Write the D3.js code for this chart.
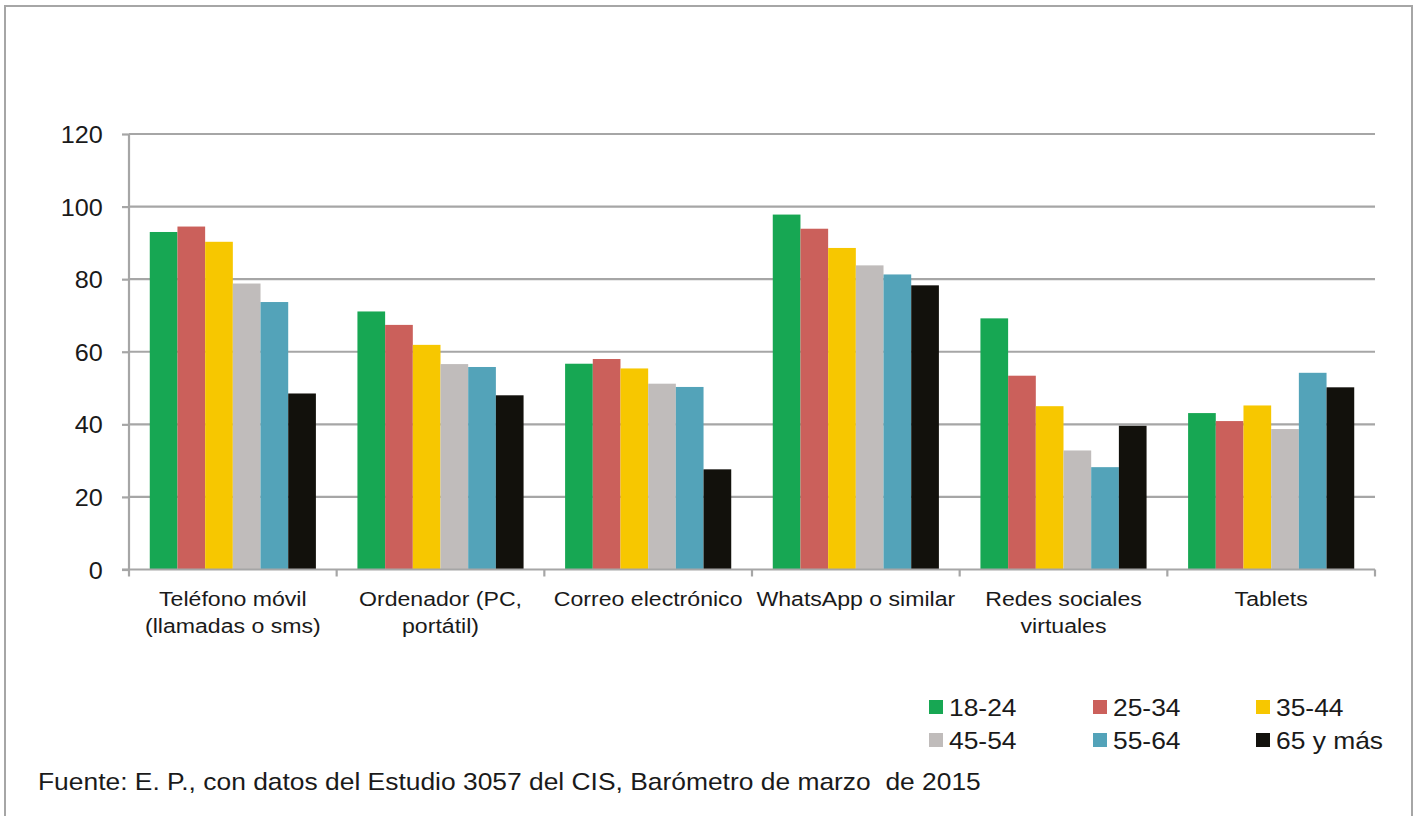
<!DOCTYPE html>
<html>
<head>
<meta charset="utf-8">
<script src="https://cdn.jsdelivr.net/npm/d3@7"></script>
<style>
  body { margin: 0; background: #fff; }
  svg { display: block; font-family: "Liberation Sans", Arial, sans-serif; }
</style>
</head>
<body>
<div id="chart"></div>
<script>
// categories (two-line labels) and age groups
const categories = [
    ["Teléfono móvil", "(llamadas o sms)"],
    ["Ordenador (PC,", "portátil)"],
    ["Correo electrónico"],
    ["WhatsApp o similar"],
    ["Redes sociales", "virtuales"],
    ["Tablets"]
];
const groups = ["18-24", "25-34", "35-44", "45-54", "55-64", "65 y más"];
const colors = ["#17a753", "#cb605b", "#f7c700", "#c0bcbb", "#53a3b9", "#12110c"];

// values per age group, in category order
const v1824 = [93.0, 71.1, 56.7, 97.8, 69.2, 43.1];
const v2534 = [94.5, 67.4, 58.0, 93.9, 53.4, 40.9];
const v3544 = [90.3, 61.9, 55.4, 88.6, 45.0, 45.2];
const v4554 = [78.8, 56.6, 51.2, 83.8, 32.8, 38.7];
const v5564 = [73.7, 55.8, 50.3, 81.3, 28.2, 54.2];
const v65 = [48.5, 48.0, 27.6, 78.3, 39.6, 50.2];
const series = [v1824, v2534, v3544, v4554, v5564, v65];

const yTicks = [0, 20, 40, 60, 80, 100, 120];
const source = "Fuente: E. P., con datos del Estudio 3057 del CIS, Barómetro de marzo\u00a0 de 2015";

const W = 1418, H = 816;
const plot = {left: 129, right: 1375, top: 134, bottom: 569.5};
const grid = "#a6a6a6";
const ink = "#1a1a1a";
const sx = 1.1; // the source text is a bit wider than Liberation Sans

const svg = d3.select("#chart").append("svg")
    .attr("width", W)
    .attr("height", H);

// outer frame
svg.append("rect")
    .attr("x", 5).attr("y", 6)
    .attr("width", 1407).attr("height", H + 10)
    .attr("fill", "none")
    .attr("stroke", grid)
    .attr("stroke-width", 2);

const idx = d3.range(categories.length);

const x0 = d3.scaleBand()
    .domain(idx)
    .range([plot.left, plot.right])
    .paddingInner(0.2)
    .paddingOuter(0.1);

const x1 = d3.scaleBand()
    .domain(d3.range(groups.length))
    .range([0, x0.bandwidth()]);

const y = d3.scaleLinear()
    .domain([0, 120])
    .range([plot.bottom, plot.top]);

// y axis
const yAxis = svg.append("g")
    .attr("transform", `translate(${plot.left},0)`)
    .call(d3.axisLeft(y).tickValues(yTicks).tickSize(7).tickPadding(18));
yAxis.select(".domain").attr("stroke", grid).attr("stroke-width", 2.2)
    .attr("d", `M0,${plot.top}V${plot.bottom}`);
yAxis.selectAll(".tick line").attr("stroke", grid).attr("stroke-width", 2.2);
yAxis.selectAll(".tick text")
    .attr("fill", ink)
    .attr("dy", "0.36em")
    .attr("transform", "scale(1.05,1)")
    .style("font-size", "24px");

// gridlines
svg.append("g")
    .selectAll("line")
    .data(yTicks.filter(d => d > 0))
    .join("line")
    .attr("x1", plot.left)
    .attr("x2", plot.right)
    .attr("y1", d => y(d))
    .attr("y2", d => y(d))
    .attr("stroke", grid)
    .attr("stroke-width", 2.2);

// bars
svg.append("g")
    .selectAll("g")
    .data(series)
    .join("g")
    .attr("fill", (d, i) => colors[i])
    .each(function (vals, gi) {
        d3.select(this).selectAll("rect")
            .data(vals)
            .join("rect")
            .attr("x", (d, ci) => x0(ci) + x1(gi))
            .attr("width", x1.bandwidth())
            .attr("y", d => y(d))
            .attr("height", d => y(0) - y(d));
    });

// x axis with ticks at category boundaries
const xb = d3.scaleLinear().domain([0, categories.length]).range([plot.left, plot.right]);
const xAxis = svg.append("g")
    .attr("transform", `translate(0,${plot.bottom})`);
xAxis.append("line")
    .attr("x1", plot.left - 7).attr("x2", plot.right)
    .attr("stroke", grid).attr("stroke-width", 2.2);
xAxis.selectAll(".tk")
    .data(d3.range(categories.length + 1))
    .join("line")
    .attr("class", "tk")
    .attr("x1", d => xb(d)).attr("x2", d => xb(d))
    .attr("y1", 0).attr("y2", 7)
    .attr("stroke", grid).attr("stroke-width", 2.2);

// category labels
xAxis.selectAll(".cat")
    .data(categories)
    .join("text")
    .attr("class", "cat")
    .attr("text-anchor", "middle")
    .attr("fill", ink)
    .attr("transform", (d, i) => `translate(${x0(i) + x0.bandwidth() / 2},0) scale(${sx},1)`)
    .style("font-size", "21px")
    .each(function (lines) {
        d3.select(this).selectAll("tspan")
            .data(lines)
            .join("tspan")
            .attr("x", 0)
            .attr("y", (d, k) => 37 + k * 27)
            .text(d => d);
    });

// legend
const legend = svg.append("g");
const legX = [929, 1093, 1256], legY = [700, 733];
groups.forEach((g, i) => {
    const lx = legX[i % 3], ly = legY[Math.floor(i / 3)];
    legend.append("rect")
        .attr("x", lx).attr("y", ly)
        .attr("width", 14).attr("height", 14)
        .attr("fill", colors[i]);
    legend.append("text")
        .attr("transform", `translate(${lx + 20},${ly + 16}) scale(${sx},1)`)
        .attr("fill", ink)
        .style("font-size", "24px")
        .text(g);
});

// source note
svg.append("text")
    .attr("transform", `translate(38,790) scale(${sx},1)`)
    .attr("fill", ink)
    .style("font-size", "24px")
    .text(source);
</script>
</body>
</html>
